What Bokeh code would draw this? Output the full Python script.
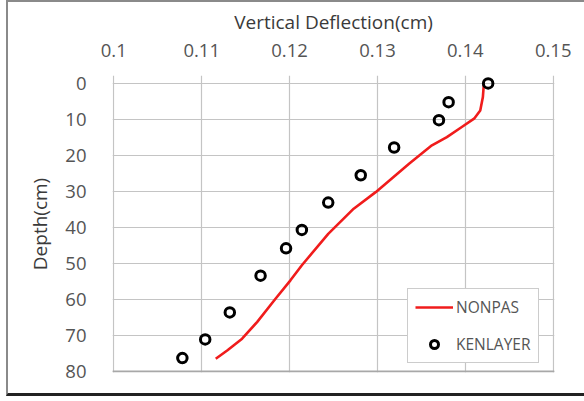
from bokeh.plotting import figure
from bokeh.layouts import column
from bokeh.models import Range1d, FixedTicker, Legend, LegendItem, Span
from bokeh.embed import file_html
from bokeh.resources import INLINE

# NONPAS (line)
nonpas_depth = [0.5, 3.8, 7.5, 9.8, 12.1, 14.9, 17.2, 22.3, 30.2, 34.8, 41.8, 50.5, 54.7, 59.8, 66.3, 70.9, 74.2, 76.5]
nonpas_defl = [0.1421, 0.1420, 0.1417, 0.1410, 0.1396, 0.1379, 0.1362, 0.1336, 0.1298, 0.1273, 0.1244, 0.1214,
               0.1201, 0.1184, 0.1163, 0.1146, 0.1129, 0.1116]

# KENLAYER (circles)
ken_depth = [0.0, 5.2, 10.2, 17.8, 25.5, 33.1, 40.7, 45.8, 53.4, 63.6, 71.1, 76.3]
ken_defl = [0.1426, 0.1381, 0.1370, 0.1319, 0.1281, 0.1244, 0.1214, 0.1196, 0.1167, 0.1132, 0.1104, 0.1078]

x_ticks = [0.1, 0.11, 0.12, 0.13, 0.14, 0.15]
y_ticks = [0, 10, 20, 30, 40, 50, 60, 70, 80]

FONT = "Open Sans"
TXT = "#555555"

p = figure(width=576, height=391, output_backend="svg", toolbar_location=None,
           x_range=Range1d(0.09985, 0.15015), y_range=Range1d(80.3, -2.2),
           x_axis_location="above",
           min_border_left=104, min_border_right=30, min_border_top=73, min_border_bottom=21)
p.outline_line_color = None
p.background_fill_color = "white"
p.border_fill_color = "white"

# axes
xa = p.xaxis[0]
xa.ticker = FixedTicker(ticks=x_ticks)
xa.major_label_overrides = {0.1: "0.1", 0.11: "0.11", 0.12: "0.12", 0.13: "0.13", 0.14: "0.14", 0.15: "0.15"}
xa.axis_label = "Vertical Deflection(cm)"
ya = p.yaxis[0]
ya.ticker = FixedTicker(ticks=y_ticks)
ya.axis_label = "Depth(cm)"
for ax in (xa, ya):
    ax.axis_line_color = None
    ax.major_tick_line_color = None
    ax.minor_tick_line_color = None
    ax.major_label_text_font = FONT
    ax.major_label_text_font_size = "18.5px"
    ax.major_label_text_color = TXT
    ax.axis_label_text_font = FONT
    ax.axis_label_text_font_size = "19px"
    ax.axis_label_text_font_style = "normal"
    ax.axis_label_text_color = "#3a3a3a"
xa.major_label_standoff = 13
xa.axis_label_standoff = 6
ya.major_label_standoff = 20
ya.axis_label_standoff = 9

p.xgrid.ticker = FixedTicker(ticks=x_ticks)
p.ygrid.ticker = FixedTicker(ticks=y_ticks)
p.grid.grid_line_color = "#c4c4c4"
p.grid.grid_line_width = 1.2
p.add_layout(Span(location=80, dimension="width", line_color="#a8a8a8", line_width=2))

# data
r_line = p.line(nonpas_defl, nonpas_depth, line_color="#f01c1c", line_width=2.6)
r_pts = p.scatter(ken_defl, ken_depth, marker="circle", size=9.5, fill_color=None,
                  line_color="black", line_width=3)

legend = Legend(items=[LegendItem(label="NONPAS", renderers=[r_line]),
                       LegendItem(label="KENLAYER", renderers=[r_pts])],
                location=(295, 9))
legend.label_text_font = FONT
legend.label_text_font_size = "15.5px"
legend.label_text_color = TXT
legend.glyph_width = 38
legend.glyph_height = 20
legend.label_height = 20
legend.spacing = 15
legend.padding = 7
legend.margin = 0
legend.label_standoff = 3
legend.border_line_color = "#9a9a9a"
legend.border_line_width = 1.5
legend.background_fill_alpha = 1
p.add_layout(legend, "center")

# outer chart frame as a wrapping layout box
page = column(p, styles={"border-left": "2px solid #8a8a8a", "border-top": "2px solid #8a8a8a",
                         "border-bottom": "3px solid #222222", "margin-left": "6px",
                         "box-sizing": "content-box"})

open("out.html", "w").write(file_html(page, INLINE))
